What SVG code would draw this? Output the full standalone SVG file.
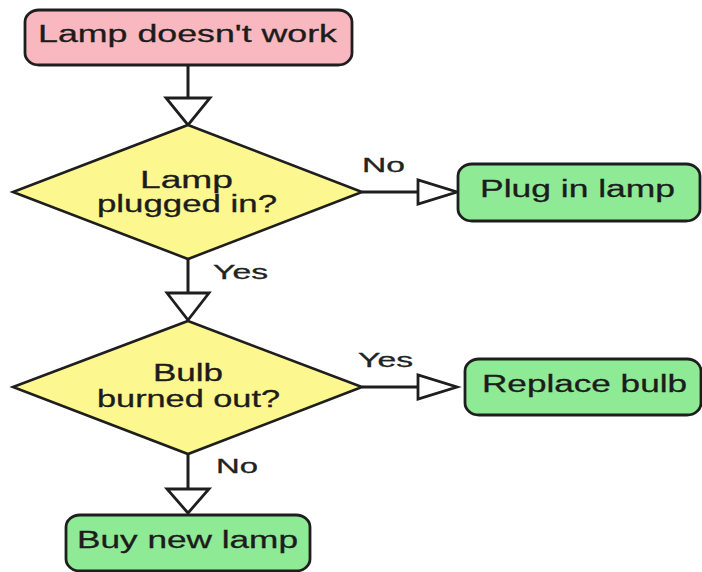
<svg xmlns="http://www.w3.org/2000/svg" width="702" height="572" viewBox="0 0 702 572">
<style>
.box{stroke:#1e1e1e;stroke-width:2.8}
.start{fill:#f9b8bf}
.act{fill:#8fea96}
.dec{fill:#fcf78e;stroke:#1e1e1e;stroke-width:2.6;stroke-linejoin:miter}
.ln{stroke:#1e1e1e;stroke-width:3;fill:none}
.head{fill:#ffffff;stroke:#1e1e1e;stroke-width:2.8;stroke-linejoin:miter}
text{font-family:"Liberation Sans",Arial,sans-serif;font-size:23px;fill:#1c1c1c;stroke:#1c1c1c;stroke-width:0.3;text-anchor:middle}
.lbl{font-size:20px;fill:#222;stroke:#222}
</style>
<rect width="702" height="572" fill="#ffffff"/>
<g id="connectors">
<line class="ln" x1="188" y1="65" x2="188" y2="98"/>
<polygon class="head" points="166,98 210,98 188,125"/>
<line class="ln" x1="362" y1="192" x2="418" y2="192"/>
<polygon class="head" points="418,180 418,204 457,192"/>
<line class="ln" x1="188" y1="259" x2="188" y2="293"/>
<polygon class="head" points="167,293 209,293 188,320"/>
<line class="ln" x1="362" y1="387" x2="418" y2="387"/>
<polygon class="head" points="418,375 418,399 457,387"/>
<line class="ln" x1="188" y1="454" x2="188" y2="489"/>
<polygon class="head" points="167,489 209,489 188,513"/>
<text class="lbl" x="383.5" y="172" textLength="43" lengthAdjust="spacingAndGlyphs">No</text>
<text class="lbl" x="240.5" y="279" textLength="55" lengthAdjust="spacingAndGlyphs">Yes</text>
<text class="lbl" x="385.5" y="367" textLength="55" lengthAdjust="spacingAndGlyphs">Yes</text>
<text class="lbl" x="237" y="473" textLength="42" lengthAdjust="spacingAndGlyphs">No</text>
</g>
<g id="start">
<rect class="box start" x="25" y="10" width="327" height="55" rx="14" ry="12"/>
<text x="187.5" y="42" textLength="299" lengthAdjust="spacingAndGlyphs">Lamp doesn't work</text>
</g>
<g id="plugged">
<polygon class="dec" points="188,125 362,192 188,259 13,192"/>
<text x="186.5" y="188" textLength="93" lengthAdjust="spacingAndGlyphs">Lamp</text>
<text x="187" y="212" textLength="180" lengthAdjust="spacingAndGlyphs">plugged in?</text>
</g>
<g id="pluglamp">
<rect class="box act" x="458" y="164" width="242" height="57" rx="14" ry="12"/>
<text x="577.5" y="197" textLength="195" lengthAdjust="spacingAndGlyphs">Plug in lamp</text>
</g>
<g id="bulb">
<polygon class="dec" points="188,321 362,387 188,454 13,387"/>
<text x="188" y="381" textLength="70" lengthAdjust="spacingAndGlyphs">Bulb</text>
<text x="188.5" y="407" textLength="183" lengthAdjust="spacingAndGlyphs">burned out?</text>
</g>
<g id="replace">
<rect class="box act" x="465" y="359" width="236" height="56" rx="14" ry="12"/>
<text x="584.5" y="392" textLength="205" lengthAdjust="spacingAndGlyphs">Replace bulb</text>
</g>
<g id="buynew">
<rect class="box act" x="66" y="515" width="244" height="56" rx="14" ry="12"/>
<text x="187.5" y="548" textLength="221" lengthAdjust="spacingAndGlyphs">Buy new lamp</text>
</g>
</svg>
